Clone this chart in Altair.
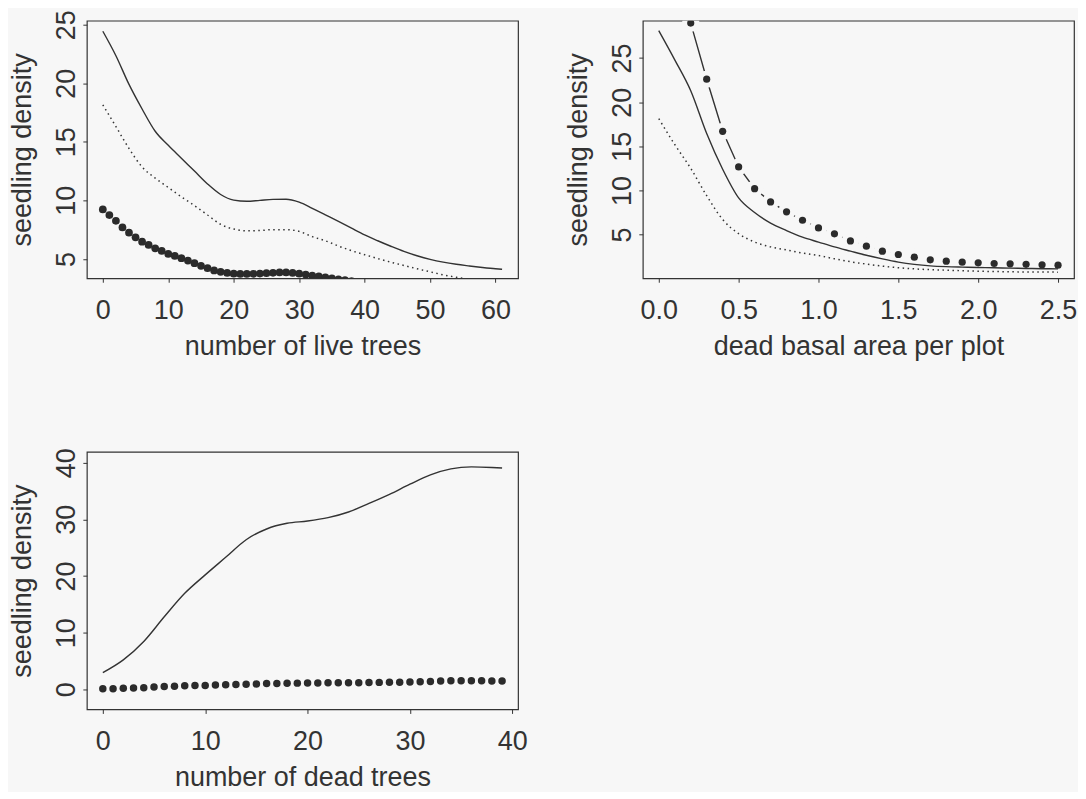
import altair as alt
import pandas as pd

BG = "#f7f7f7"
INK = "#333333"
FONT = "Liberation Sans"
FS = 27
W, H = 432, 258

# ---------------- Panel 1: number of live trees ----------------
live_x = [0, 2, 4, 6, 8, 10, 12, 14, 16, 18, 20, 22, 24, 26, 28, 30, 32, 34, 36, 38,
          40, 42, 44, 46, 48, 50, 52, 54, 56, 58, 60, 61]
live_solid = [24.44, 22.35, 19.9, 17.8, 15.9, 14.7, 13.6, 12.5, 11.4, 10.5, 10.02, 9.92,
              10.0, 10.08, 10.1, 9.85, 9.32, 8.76, 8.2, 7.62, 7.05, 6.55, 6.08, 5.64, 5.27,
              4.96, 4.72, 4.54, 4.4, 4.27, 4.16, 4.12]
live_dotted = [18.16, 16.3, 14.43, 12.85, 11.9, 11.1, 10.3, 9.55, 8.75, 7.95, 7.55, 7.4,
               7.42, 7.5, 7.5, 7.35, 6.9, 6.55, 6.1, 5.7, 5.36, 5.03, 4.72, 4.44, 4.16,
               3.9, 3.64, 3.43, 3.26, 3.12, 3.0, 2.95]
live_pts_x = list(range(0, 41))
live_pts_y = [9.22, 8.74, 8.25, 7.69, 7.24, 6.84, 6.47, 6.19, 5.9, 5.68, 5.42, 5.25, 5.06,
              4.86, 4.63, 4.41, 4.21, 4.02, 3.9, 3.8, 3.74, 3.72, 3.72, 3.73, 3.75, 3.78,
              3.81, 3.84, 3.84, 3.8, 3.74, 3.66, 3.58, 3.5, 3.42, 3.34, 3.26, 3.18, 3.1,
              3.02, 2.95]
live_xticks = [0, 10, 20, 30, 40, 50, 60]
live_yticks = [5, 10, 15, 20, 25]

# ---------------- Panel 2: dead basal area per plot ----------------
basal_x = [0.0, 0.1, 0.2, 0.3, 0.4, 0.5, 0.6, 0.7, 0.8, 0.9, 1.0, 1.1, 1.2, 1.3, 1.4,
           1.5, 1.6, 1.7, 1.8, 1.9, 2.0, 2.1, 2.2, 2.3, 2.4, 2.5]
basal_solid = [28.1, 24.8, 21.3, 16.45, 12.4, 9.15, 7.5, 6.3, 5.45, 4.7, 4.15, 3.6, 3.12,
               2.65, 2.24, 1.88, 1.62, 1.45, 1.36, 1.31, 1.27, 1.23, 1.2, 1.16, 1.13, 1.11]
basal_dotted = [18.13, 15.2, 12.5, 9.4, 6.7, 5.1, 4.15, 3.6, 3.25, 2.9, 2.62, 2.25, 1.92,
                1.65, 1.42, 1.24, 1.11, 1.02, 0.96, 0.9, 0.85, 0.81, 0.78, 0.76, 0.75, 0.74]
basal_pts_x = [0.2, 0.3, 0.4, 0.5, 0.6, 0.7, 0.8, 0.9, 1.0, 1.1, 1.2, 1.3, 1.4, 1.5,
               1.6, 1.7, 1.8, 1.9, 2.0, 2.1, 2.2, 2.3, 2.4, 2.5]
basal_pts_y = [28.96, 22.6, 16.7, 12.66, 10.2, 8.7, 7.57, 6.62, 5.75, 5.08, 4.28, 3.68,
               3.11, 2.74, 2.43, 2.13, 1.98, 1.87, 1.79, 1.72, 1.68, 1.62, 1.58, 1.53]
basal_xticks = [0.0, 0.5, 1.0, 1.5, 2.0, 2.5]
basal_yticks = [5, 10, 15, 20, 25]

# ---------------- Panel 3: number of dead trees ----------------
dead_x = [0, 2, 4, 6, 8, 10, 12, 14, 16, 18, 20, 22, 24, 26, 28, 30, 32, 34, 36, 38, 39]
dead_solid = [2.95, 5.2, 8.45, 12.8, 16.95, 20.2, 23.3, 26.4, 28.3, 29.3, 29.7, 30.3,
              31.3, 32.8, 34.4, 36.2, 37.85, 38.9, 39.25, 39.15, 39.05]
dead_pts_x = list(range(0, 40))
dead_pts_y = [0.12, 0.12, 0.2, 0.23, 0.29, 0.4, 0.5, 0.56, 0.62, 0.67, 0.7, 0.75, 0.8,
              0.86, 0.92, 0.95, 1.02, 1.05, 1.08, 1.1, 1.11, 1.13, 1.15, 1.17, 1.17,
              1.18, 1.21, 1.23, 1.24, 1.27, 1.29, 1.34, 1.4, 1.46, 1.5, 1.52, 1.52, 1.52,
              1.48, 1.46]
dead_xticks = [0, 10, 20, 30, 40]
dead_yticks = [0, 10, 20, 30, 40]


def xaxis(vals, fmt, title):
    return alt.Axis(values=vals, format=fmt, title=title, domain=False, grid=False,
                    tickSize=4, tickColor=INK, tickWidth=1,
                    labelFont=FONT, labelFontSize=FS, labelColor=INK, labelPadding=15,
                    labelOverlap=False, labelFlush=False,
                    titleFont=FONT, titleFontSize=FS, titleFontWeight="normal",
                    titleColor=INK, titleX=W / 2, titleY=76, titleAlign="center",
                    titleBaseline="alphabetic")


def yaxis(vals):
    return alt.Axis(values=vals, format="d", title="seedling density", domain=False,
                    grid=False, tickSize=4, tickColor=INK, tickWidth=1,
                    labelFont=FONT, labelFontSize=FS, labelColor=INK,
                    labelAngle=270, labelAlign="center", labelBaseline="alphabetic",
                    labelPadding=8.5, labelOverlap=False, labelFlush=False,
                    titleFont=FONT, titleFontSize=FS, titleFontWeight="normal",
                    titleColor=INK, titleAngle=270, titleX=-56, titleY=H / 2,
                    titleAlign="center", titleBaseline="alphabetic")


def enc(xdom, ydom, xticks, yticks, xfmt, xtitle):
    return dict(
        x=alt.X("x:Q", scale=alt.Scale(domain=xdom, nice=False, zero=False),
                axis=xaxis(xticks, xfmt, xtitle)),
        y=alt.Y("y:Q", scale=alt.Scale(domain=ydom, nice=False, zero=False),
                axis=yaxis(yticks)),
    )


def df(xs, ys):
    return pd.DataFrame({"x": xs, "y": ys})


DOT = "#2b2b2b"

# Panel 1
e1 = enc([-2.44, 63.44], [3.35, 25.34], live_xticks, live_yticks, "d",
         "number of live trees")
p1 = alt.layer(
    alt.Chart(df(live_x, live_solid)).mark_line(color=INK, strokeWidth=1.4, clip=True,
                                                  interpolate="monotone").encode(**e1),
    alt.Chart(df(live_x, live_dotted)).mark_line(color=INK, strokeWidth=1.5, clip=True,
                                                   strokeDash=[1.5, 3.5],
                                                   interpolate="monotone").encode(**e1),
    alt.Chart(df(live_pts_x, live_pts_y)).mark_circle(color=DOT, size=60, opacity=1,
                                                       clip=True).encode(**e1),
).properties(width=W, height=H)

# Panel 2 (line-and-point series drawn with gaps around the points)
e2 = enc([-0.1, 2.6], [0.05, 29.23], basal_xticks, basal_yticks, ".1f",
         "dead basal area per plot")
p2 = alt.layer(
    alt.Chart(df(basal_pts_x, basal_pts_y)).mark_line(color=INK, strokeWidth=1.4,
                                                       clip=True).encode(**e2),
    alt.Chart(df(basal_pts_x, basal_pts_y)).mark_circle(color=BG, size=300, opacity=1,
                                                         clip=True).encode(**e2),
    alt.Chart(df(basal_x, basal_solid)).mark_line(color=INK, strokeWidth=1.4, clip=True,
                                                    interpolate="monotone").encode(**e2),
    alt.Chart(df(basal_x, basal_dotted)).mark_line(color=INK, strokeWidth=1.5, clip=True,
                                                     strokeDash=[1.5, 3.5],
                                                     interpolate="monotone").encode(**e2),
    alt.Chart(df(basal_pts_x, basal_pts_y)).mark_circle(color=DOT, size=52,
                                                         opacity=1, clip=True).encode(**e2),
).properties(width=W, height=H)

# Panel 3
e3 = enc([-1.56, 40.56], [-3.54, 41.9], dead_xticks, dead_yticks, "d",
         "number of dead trees")
p3 = alt.layer(
    alt.Chart(df(dead_x, dead_solid)).mark_line(color=INK, strokeWidth=1.4, clip=True,
                                                  interpolate="monotone").encode(**e3),
    alt.Chart(df(dead_pts_x, dead_pts_y)).mark_circle(color=DOT, size=56, opacity=1,
                                                       clip=True).encode(**e3),
).properties(width=W, height=H)

chart = alt.vconcat(
    alt.hconcat(p1, p2, spacing=45),
    p3,
    spacing=87,
).properties(
    padding={"left": 0, "top": 0, "right": 0, "bottom": 0},
).configure(
    background=BG,
).configure_view(
    stroke=INK, strokeWidth=1.2,
)

chart.save("out.html", embed_options={"renderer": "svg", "actions": False})
